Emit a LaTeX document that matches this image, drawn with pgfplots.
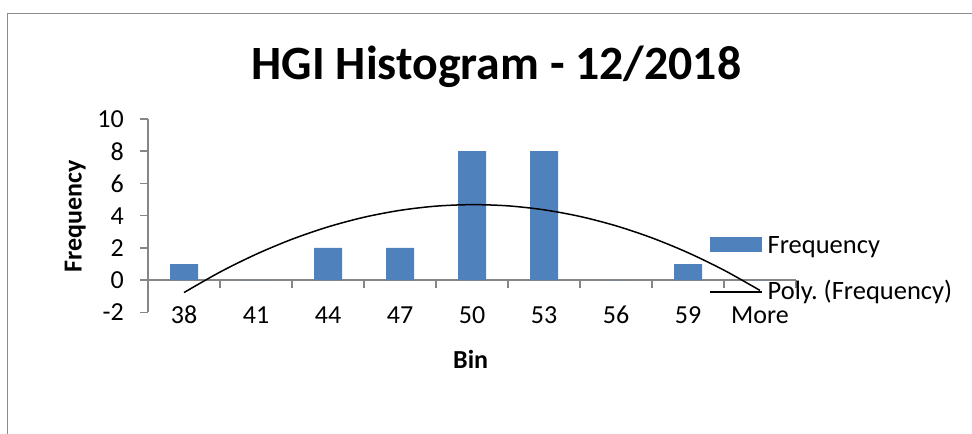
\documentclass[border=0pt]{standalone}
\usepackage{fontspec}
\setmainfont{Carlito}
\usepackage{pgfplots}
\pgfplotsset{compat=1.18}
\definecolor{barblue}{HTML}{4F81BD}
\definecolor{axgray}{HTML}{868686}
\definecolor{framegray}{HTML}{8C8C8C}
\begin{document}
\begin{tikzpicture}[x=1bp,y=1bp]
\useasboundingbox (0,0) rectangle (972,434);
\draw[framegray, line width=1.5bp] (7.5,-5) -- (7.5,420.5) -- (980,420.5);
\node[font=\bfseries\fontsize{47.8bp}{52bp}\selectfont, anchor=base, inner sep=0pt] at (496.5,354) {HGI Histogram - 12/2018};
\node[font=\bfseries\fontsize{26bp}{30bp}\selectfont, rotate=90, anchor=base, inner sep=0pt] at (81.7,218) {Frequency};
\node[font=\bfseries\fontsize{26bp}{30bp}\selectfont, anchor=base, inner sep=0pt] at (470.7,65.7) {Bin};
\begin{axis}[
  at={(148bp,121.5bp)}, anchor=south west, scale only axis,
  width=648bp, height=193.5bp,
  xmin=-0.5, xmax=8.5, ymin=-2, ymax=10,
  axis line style={draw=none}, tick style={draw=none},
  xtick={0,1,2,3,4,5,6,7,8},
  xticklabels={38,41,44,47,50,53,56,59,More},
  ytick={-2,0,2,4,6,8,10},
  yticklabels={-2,0,2,4,6,8,10},
  tick label style={font=\fontsize{26bp}{30bp}\selectfont, inner sep=0pt},
  xticklabel style={anchor=base, yshift=-10.8bp},
  yticklabel style={anchor=east, xshift=-24bp},
  clip=false,
  legend style={draw=none, fill=none, at={(axis description cs:0.861,0.405)}, anchor=north west,
    font=\fontsize{26.5bp}{30bp}\selectfont, nodes={inner sep=0pt}, row sep=25bp, column sep=5bp},
  legend cell align=left,
]
\draw[axgray, line width=1.5bp] (axis cs:-0.5,-2) -- (axis cs:-0.5,10);
\draw[axgray, line width=1.5bp] ([xshift=-8bp]axis cs:-0.5,-2) -- (axis cs:-0.5,-2);
\draw[axgray, line width=1.5bp] ([xshift=-8bp]axis cs:-0.5,0) -- (axis cs:-0.5,0);
\draw[axgray, line width=1.5bp] ([xshift=-8bp]axis cs:-0.5,2) -- (axis cs:-0.5,2);
\draw[axgray, line width=1.5bp] ([xshift=-8bp]axis cs:-0.5,4) -- (axis cs:-0.5,4);
\draw[axgray, line width=1.5bp] ([xshift=-8bp]axis cs:-0.5,6) -- (axis cs:-0.5,6);
\draw[axgray, line width=1.5bp] ([xshift=-8bp]axis cs:-0.5,8) -- (axis cs:-0.5,8);
\draw[axgray, line width=1.5bp] ([xshift=-8bp]axis cs:-0.5,10) -- (axis cs:-0.5,10);
\draw[axgray, line width=1.5bp] (axis cs:-0.5,0) -- (axis cs:8.5,0);
\draw[axgray, line width=1.5bp] (axis cs:0.5,0) -- ([yshift=-8bp]axis cs:0.5,0);
\draw[axgray, line width=1.5bp] (axis cs:1.5,0) -- ([yshift=-8bp]axis cs:1.5,0);
\draw[axgray, line width=1.5bp] (axis cs:2.5,0) -- ([yshift=-8bp]axis cs:2.5,0);
\draw[axgray, line width=1.5bp] (axis cs:3.5,0) -- ([yshift=-8bp]axis cs:3.5,0);
\draw[axgray, line width=1.5bp] (axis cs:4.5,0) -- ([yshift=-8bp]axis cs:4.5,0);
\draw[axgray, line width=1.5bp] (axis cs:5.5,0) -- ([yshift=-8bp]axis cs:5.5,0);
\draw[axgray, line width=1.5bp] (axis cs:6.5,0) -- ([yshift=-8bp]axis cs:6.5,0);
\draw[axgray, line width=1.5bp] (axis cs:7.5,0) -- ([yshift=-8bp]axis cs:7.5,0);
\draw[axgray, line width=1.5bp] (axis cs:8.5,0) -- ([yshift=-8bp]axis cs:8.5,0);
\addplot[ybar, bar width=28bp, fill=barblue, draw=none,
  legend image code/.code={\fill[barblue] (0bp,-6bp) rectangle (52bp,8.4bp);}]
  coordinates {(0,1) (1,0) (2,2) (3,2) (4,8) (5,8) (6,0) (7,1) (8,0)};
\addlegendentry{Frequency}
\addplot[black, line width=1.5bp, smooth, no marks,
  legend image code/.code={\draw[black, line width=1.5bp] (0bp,-1.5bp) -- (52bp,-1.5bp);}]
  coordinates {(0,-0.764) (0.5,0.507) (1,1.609) (1.5,2.543) (2,3.309) (2.5,3.906) (3,4.335) (3.5,4.596) (4,4.688) (4.5,4.613) (5,4.368) (5.5,3.956) (6,3.375) (6.5,2.626) (7,1.709) (7.5,0.624) (8,-0.631)};
\addlegendentry{Poly.\ (Frequency)}
\end{axis}
\end{tikzpicture}
\end{document}
